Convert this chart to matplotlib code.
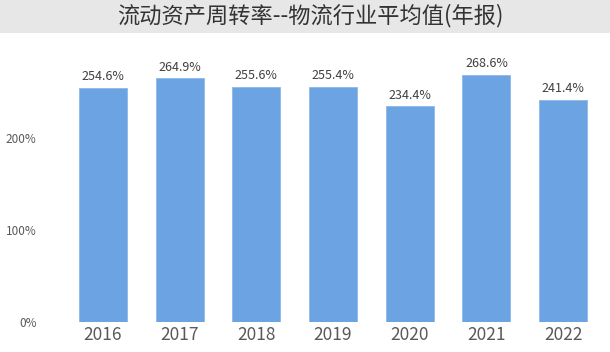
import matplotlib
matplotlib.use('Agg')
import matplotlib.pyplot as plt
from matplotlib.patches import Rectangle

plt.rcParams['font.family'] = ['Noto Sans CJK SC', 'DejaVu Sans']

years = ['2016', '2017', '2018', '2019', '2020', '2021', '2022']
values = [254.6, 264.9, 255.6, 255.4, 234.4, 268.6, 241.4]
y_ticks = [0, 100, 200]
title = '流动资产周转率--物流行业平均值(年报)'

fig = plt.figure(figsize=(6.1, 3.52), dpi=100)

# grey title band
fig.patches.append(Rectangle((0, 1 - 33 / 352), 1, 33 / 352, transform=fig.transFigure,
                             facecolor='#E7E7E7', edgecolor='none', zorder=0))
fig.text(0.508, 1 - 16 / 352, title, ha='center', va='center', fontsize=16, color='#333333')

ax = fig.add_axes([64.5 / 610, 30 / 352, 537 / 610, 276 / 352])
x = range(len(years))
ax.bar(x, values, width=0.625, color='#6CA4E3', edgecolor='#8DB8EA', linewidth=0.6)

for xi, v in zip(x, values):
    ax.text(xi, v + 5, f'{v:.1f}%', ha='center', va='bottom', fontsize=9, color='#404040')

ax.set_xlim(-0.5, len(years) - 0.5)
ax.set_ylim(0, 300)
ax.set_xticks(list(x))
ax.set_xticklabels(years, fontsize=12.5, color='#595959')
ax.set_yticks(y_ticks)
ax.set_yticklabels([f'{t}%' for t in y_ticks], fontsize=8.5, color='#595959')
ax.tick_params(axis='both', length=0)
ax.tick_params(axis='y', pad=20)
ax.tick_params(axis='x', pad=3)
for s in ax.spines.values():
    s.set_visible(False)

fig.savefig('out.png', dpi=100)
